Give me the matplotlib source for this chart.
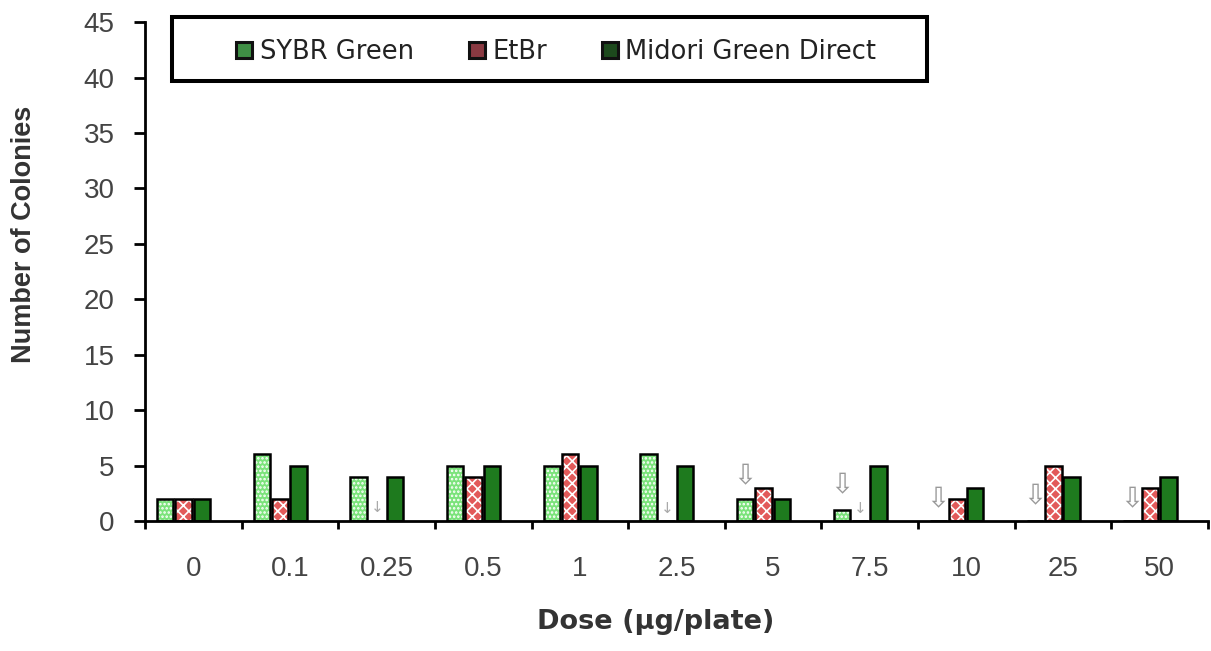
import numpy as np
import matplotlib
matplotlib.use("Agg")
import matplotlib.pyplot as plt
from matplotlib.lines import Line2D
from matplotlib.patches import Rectangle

plt.rcParams['font.family'] = ['Liberation Sans', 'DejaVu Sans']

doses = ['0', '0.1', '0.25', '0.5', '1', '2.5', '5', '7.5', '10', '25', '50']
sybr = [2, 6, 4, 5, 5, 6, 2, 1, 0, 0, 0]
etbr = [2, 2, 0, 4, 6, 0, 3, 0, 2, 5, 3]
midori = [2, 5, 4, 5, 5, 5, 2, 5, 3, 4, 4]

# toxic-dose markers (hollow arrows over SYBR, small arrows at EtBr)
big_arrow_idx = [6, 7, 8, 9, 10]
big_arrow_y = [4.0, 3.2, 2.0, 2.2, 2.0]
small_arrow_idx = [2, 5, 7]
small_arrow_y = [1.2, 1.1, 1.1]

fig = plt.figure(figsize=(12.11, 6.51), dpi=100)
ax = fig.add_axes([0.1197, 0.1997, 0.8778, 0.7663])

x = np.arange(len(doses))
w = 0.17
step = 0.19

series = [
    (sybr, -step, '#7be37b', '....', 'SYBR Green'),
    (etbr, 0, '#e25a5a', 'xxx', 'EtBr'),
    (midori, step, '#1e7a1e', None, 'Midori Green Direct'),
]
plt.rcParams['hatch.linewidth'] = 1.2
for vals, off, col, hat, lab in series:
    ax.bar(x + off, vals, w, color=col, edgecolor='white' if hat else col,
           hatch=hat, linewidth=0, zorder=2)
    ax.bar(x + off, vals, w, fill=False, edgecolor='black', linewidth=1.8, zorder=3)

for i, yy in zip(big_arrow_idx, big_arrow_y):
    ax.text(i - step, yy, '\u21e9', ha='center', va='center', fontsize=20,
            color='#999999', family=['DejaVu Sans'], zorder=4)
for i, yy in zip(small_arrow_idx, small_arrow_y):
    ax.text(i, yy, '\u2193', ha='center', va='center', fontsize=11,
            color='#aaaaaa', family=['DejaVu Sans'], zorder=4)

ax.set_xlim(-0.4, len(doses) - 0.4)
ax.set_ylim(0, 45)
ax.set_yticks(range(0, 46, 5))
ax.set_xticks(np.arange(len(doses) + 1) - 0.4)
ax.set_xticklabels([])
ax.set_xticks(x + 0.1, minor=True)
ax.set_xticklabels(doses, minor=True)
ax.tick_params(axis='x', which='major', length=6, width=2, direction='out')
ax.tick_params(axis='x', which='minor', length=0, pad=25, labelsize=20, labelcolor='#444444')
ax.tick_params(axis='y', length=8, width=2, direction='out', labelsize=20,
               labelcolor='#444444', pad=14)

for s in ['top', 'right']:
    ax.spines[s].set_visible(False)
for s in ['left', 'bottom']:
    ax.spines[s].set_linewidth(2)

ax.set_ylabel('Number of Colonies', fontsize=19.5, fontweight='bold', color='#333333')
ax.set_xlabel('Dose (\u00b5g/plate)', fontsize=19.5, fontweight='bold', color='#333333',
              family=['DejaVu Sans'])
ax.yaxis.set_label_coords(-0.1016, 0.575)
ax.xaxis.set_label_coords(0.48, -0.176)

# legend frame (box is wider than its entries)
ax.add_patch(Rectangle((0.0254, 0.8818), 0.7103, 0.1282, transform=ax.transAxes,
                       facecolor='white', edgecolor='black', linewidth=2.9,
                       clip_on=False, zorder=5))

handles = [Line2D([], [], marker='s', linestyle='none', markersize=11,
                  markerfacecolor=c, markeredgecolor='#111111', markeredgewidth=2.2)
           for c in ['#3f8f45', '#8a3a42', '#1d4a1d']]
leg = ax.legend(handles, ['SYBR Green', 'EtBr', 'Midori Green Direct'], ncol=3,
                loc='center left', bbox_to_anchor=(0.0837, 0.94), frameon=False,
                prop={'family': ['DejaVu Sans'], 'size': 18.5},
                handletextpad=0.2, columnspacing=2.05, handlelength=0.8,
                borderpad=0, borderaxespad=0)
for t in leg.get_texts():
    t.set_color('#222222')
leg.set_zorder(6)

fig.savefig('out.png', dpi=100)
